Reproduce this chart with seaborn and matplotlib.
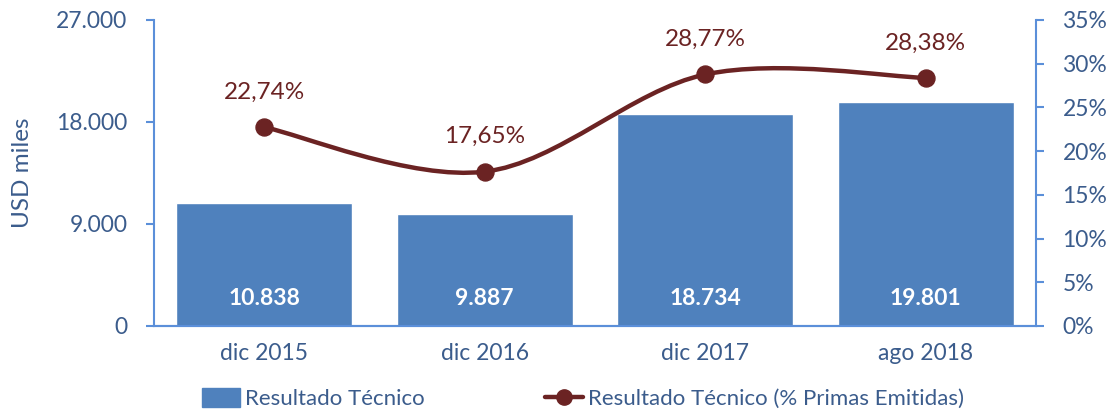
import matplotlib
matplotlib.use('Agg')
import matplotlib.pyplot as plt
from matplotlib.path import Path
from matplotlib.patches import PathPatch, Patch
from matplotlib.lines import Line2D
from matplotlib.ticker import FuncFormatter, MultipleLocator
import seaborn as sns
import pandas as pd

periodos = ['dic 2015', 'dic 2016', 'dic 2017', 'ago 2018']
resultado = [10838, 9887, 18734, 19801]
pct_primas = [22.74, 17.65, 28.77, 28.38]

bar_color = '#4F81BD'
line_color = '#6B2323'
text_color = '#3B5C8C'
spine_color = '#5B8FD9'

sns.set_theme(style='white')
plt.rcParams['font.family'] = ['Lato', 'DejaVu Sans']

df = pd.DataFrame({'periodo': periodos, 'resultado': resultado, 'pct': pct_primas})

fig = plt.figure(figsize=(11.11, 4.13), dpi=100)
ax = fig.add_axes([0.1386, 0.2107, 0.7939, 0.7409])

sns.barplot(data=df, x='periodo', y='resultado', color=bar_color, saturation=1,
            width=0.8, ax=ax)
ax.set_xlim(-0.5, 3.5)
ax.set_ylim(0, 27000)
ax.yaxis.set_major_locator(MultipleLocator(9000))
ax.yaxis.set_major_formatter(FuncFormatter(lambda v, p: f'{int(v):,}'.replace(',', '.')))
ax.set_xlabel('')
ax.set_ylabel('USD miles', fontsize=17.5, color=text_color, labelpad=17)

# bar value labels
for i, v in enumerate(resultado):
    ax.text(i, 2400, f'{v:,}'.replace(',', '.'), ha='center', va='center',
            color='white', fontsize=16.5, fontweight='bold')

ax2 = ax.twinx()
ax2.set_ylim(0, 35)
ax2.yaxis.set_major_locator(MultipleLocator(5))
ax2.yaxis.set_major_formatter(FuncFormatter(lambda v, p: f'{int(v)}%'))

# smoothed line (Catmull-Rom as cubic Bezier)
xs = list(range(len(pct_primas)))
pts = list(zip(xs, pct_primas))
verts = [pts[0]]
codes = [Path.MOVETO]
n = len(pts)
for i in range(n - 1):
    p0 = pts[i - 1] if i > 0 else pts[i]
    p1 = pts[i]
    p2 = pts[i + 1]
    p3 = pts[i + 2] if i + 2 < n else pts[i + 1]
    c1 = (p1[0] + (p2[0] - p0[0]) / 6, p1[1] + (p2[1] - p0[1]) / 6)
    c2 = (p2[0] - (p3[0] - p1[0]) / 6, p2[1] - (p3[1] - p1[1]) / 6)
    verts += [c1, c2, p2]
    codes += [Path.CURVE4] * 3
ax2.add_patch(PathPatch(Path(verts, codes), facecolor='none', edgecolor=line_color,
                        lw=3.2, zorder=3))
sns.scatterplot(data=df, x=xs, y='pct', color=line_color, s=150, edgecolor=line_color,
                zorder=4, ax=ax2, legend=False)
for i, v in enumerate(pct_primas):
    ax2.text(i, v + 4.0, f'{v:.2f}%'.replace('.', ','), ha='center', va='center',
             color=line_color, fontsize=17.5)
ax2.set_ylabel('')
ax2.set_xlim(-0.5, 3.5)

for a in (ax, ax2):
    a.spines['top'].set_visible(False)
    for s in ('left', 'right', 'bottom'):
        a.spines[s].set_color(spine_color)
        a.spines[s].set_linewidth(1.5)
    a.tick_params(axis='y', colors=spine_color, labelcolor=text_color, labelsize=16.5,
                  length=6, width=1.5, direction='out', pad=13)
ax.tick_params(axis='x', length=0, labelsize=16.5, labelcolor=text_color, pad=12)
ax.spines['right'].set_visible(False)
ax2.spines['left'].set_visible(False)

handles = [Patch(facecolor=bar_color, edgecolor=bar_color),
           Line2D([0], [0], color=line_color, lw=3.2, marker='o', markersize=11)]
labels = ['Resultado Técnico', 'Resultado Técnico (% Primas Emitidas)']
fig.legend(handles, labels, loc='center', bbox_to_anchor=(0.525, 0.035), ncol=2,
           frameon=False, fontsize=16, labelcolor=text_color, handlelength=1.7,
           handleheight=0.9, handletextpad=0.25, columnspacing=5.4)

fig.savefig('out.png', dpi=100)
